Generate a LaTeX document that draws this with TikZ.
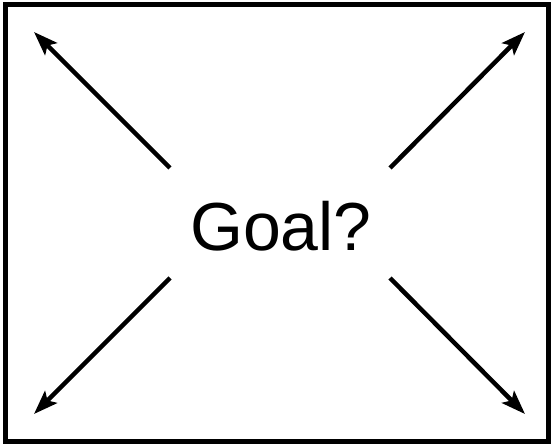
\documentclass[tikz,border=0pt]{standalone}
\usepackage{fontspec}
\setmainfont{Liberation Sans}
\usetikzlibrary{arrows.meta}
\begin{document}
\begin{tikzpicture}[x=1pt,y=1pt,
  frame/.style={line width=5pt,draw=black},
  ray/.style={line width=4.5pt,-{Stealth[length=24pt,width=17pt,inset=5pt]}},
  label/.style={font=\fontsize{68}{80}\selectfont,inner sep=0pt}]
\useasboundingbox (0,0) rectangle (551,444);
\draw[frame] (5.5,2.5) rectangle (548.5,439.5);
\node[label] (goal) at (281,218) {Goal?};
\coordinate (s1) at (170,276);
\coordinate (s2) at (390,276);
\coordinate (s3) at (170,166);
\coordinate (s4) at (390,166);
\coordinate (t1) at (34,412);
\coordinate (t2) at (525,412);
\coordinate (t3) at (34,30);
\coordinate (t4) at (525,30);
\draw[ray] (s1) -- (t1);
\draw[ray] (s2) -- (t2);
\draw[ray] (s3) -- (t3);
\draw[ray] (s4) -- (t4);
\end{tikzpicture}
\end{document}
